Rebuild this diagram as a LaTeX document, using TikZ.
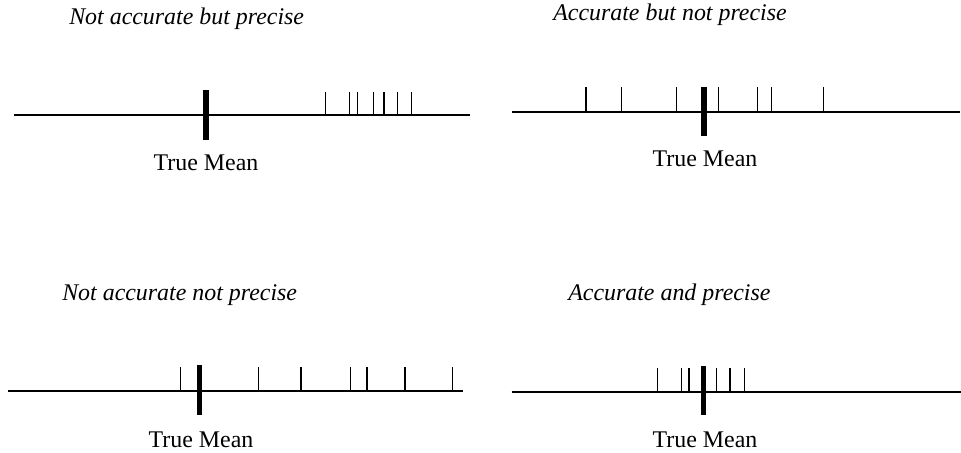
\documentclass[tikz,border=0pt]{standalone}
\usepackage{fontspec}
\setmainfont{Liberation Serif}
\usepackage{tikz}

\tikzset{
  axis/.style={line width=1.4pt},
  meanbar/.style={line width=3.6pt},
  tick/.style={line width=1pt},
  title/.style={font=\itshape\fontsize{17}{20}\selectfont, anchor=base west, inner sep=0pt},
  meanlabel/.style={font=\fontsize{17}{20}\selectfont, anchor=base}
}

\begin{document}
\begin{tikzpicture}[x=0.025cm,y=-0.025cm]
	\useasboundingbox (0,0) rectangle (961,453);
	% Not accurate but precise
	\node[title] (t1) at (69,25) {Not accurate but precise};
	\coordinate (a1) at (14,115);
	\coordinate (b1) at (470,115);
	\draw[axis] (a1) -- (b1);
	\draw[meanbar] (206,90) -- (206,140) coordinate (m1);
	\foreach \x in {325.7,349.7,357.3,373.7,384,397.3,411.7}
		\draw[tick] (\x,92) -- (\x,115);
	\node[meanlabel] (l1) at (206,171) {True Mean};
	% Accurate but not precise
	\node[title] (t2) at (553,21) {Accurate but not precise};
	\coordinate (a2) at (512,112.3);
	\coordinate (b2) at (960,112.3);
	\draw[axis] (a2) -- (b2);
	\draw[meanbar] (704,87) -- (704,136) coordinate (m2);
	\foreach \x in {586,621.7,676.7,718.3,757.3,771.3,823.3}
		\draw[tick] (\x,87.3) -- (\x,112.3);
	\node[meanlabel] (l2) at (705,166) {True Mean};
	% Not accurate not precise
	\node[title] (t3) at (62,300) {Not accurate not precise};
	\coordinate (a3) at (8.3,391.3);
	\coordinate (b3) at (463.3,391.3);
	\draw[axis] (a3) -- (b3);
	\draw[meanbar] (199.3,365) -- (199.3,415) coordinate (m3);
	\foreach \x in {180.7,258.7,301,350.3,367,405,452.3}
		\draw[tick] (\x,367.3) -- (\x,391.3);
	\node[meanlabel] (l3) at (201,447) {True Mean};
	% Accurate and precise
	\node[title] (t4) at (568,300) {Accurate and precise};
	\coordinate (a4) at (511.7,391.7);
	\coordinate (b4) at (961,391.7);
	\draw[axis] (a4) -- (b4);
	\draw[meanbar] (703.3,366) -- (703.3,415) coordinate (m4);
	\foreach \x in {657.7,681.7,689,716.3,730,744.3}
		\draw[tick] (\x,368.3) -- (\x,391.7);
	\node[meanlabel] (l4) at (705,447) {True Mean};
\end{tikzpicture}
\end{document}
